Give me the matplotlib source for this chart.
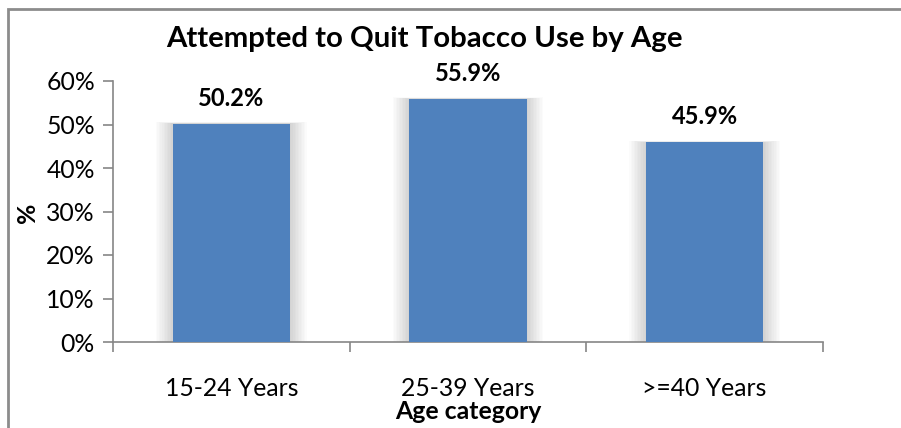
import matplotlib as mpl
mpl.use("Agg")
import matplotlib.pyplot as plt
from matplotlib.patches import Rectangle
import numpy as np

categories = ["15-24 Years", "25-39 Years", ">=40 Years"]
values = [50.2, 55.9, 45.9]
value_labels = ["50.2%", "55.9%", "45.9%"]
yticks = [0, 10, 20, 30, 40, 50, 60]
ytick_labels = ["0%", "10%", "20%", "30%", "40%", "50%", "60%"]

BAR_COLOR = "#4F81BD"
AXIS_COLOR = "#868686"
FONT = ["Lato", "DejaVu Sans"]

plt.rcParams["font.family"] = FONT

fig = plt.figure(figsize=(9.01, 4.28), dpi=100)
ax = fig.add_axes([113 / 901, 1 - 342 / 428, (823 - 113) / 901, (342 - 81) / 428])

x = np.arange(len(categories))
width = 0.495

# soft shadow around the bars
for k in range(12):
    ax.bar(x, np.array(values) + 0.03 * k, width=width + 0.013 * k,
           color="black", alpha=0.014, linewidth=0, zorder=1)
ax.bar(x, values, width=width, color=BAR_COLOR, linewidth=0, zorder=3)

for xi, v, lab in zip(x, values, value_labels):
    ax.annotate(lab, (xi, v), xytext=(0, 13), textcoords="offset points",
                ha="center", va="baseline", fontsize=17, fontweight="bold")

ax.set_xlim(-0.5, len(categories) - 0.5)
ax.set_ylim(0, 60)
ax.set_yticks(yticks)
ax.set_yticklabels(ytick_labels)
ax.set_xticks(x)
ax.set_xticklabels(categories)
ax.set_xticks(np.arange(len(categories) + 1) - 0.5, minor=True)
ax.tick_params(axis="x", which="major", length=0, pad=25, labelsize=17.8)
ax.tick_params(axis="x", which="minor", length=7, width=1.2, color=AXIS_COLOR,
               direction="out")
ax.tick_params(axis="y", length=7, width=1.2, color=AXIS_COLOR, pad=6,
               labelsize=17.8)

for s in ["top", "right"]:
    ax.spines[s].set_visible(False)
for s in ["left", "bottom"]:
    ax.spines[s].set_color(AXIS_COLOR)
    ax.spines[s].set_linewidth(1.2)

ax.set_xlabel("Age category", fontsize=17.8, fontweight="bold", labelpad=0)
fig.text(28 / 901, 1 - 213 / 428, "%", rotation=90, fontsize=17.8,
         fontweight="bold", ha="center", va="center")
fig.text(424 / 901, 1 - 47 / 428, "Attempted to Quit Tobacco Use by Age",
         fontsize=21.2, fontweight="bold", ha="center", va="baseline")

# outer chart border
fig.patches.append(Rectangle((8 / 901, -0.1), 1.2, 1 - 9 / 428 + 0.1,
                             transform=fig.transFigure, fill=False,
                             edgecolor="#8C8C8C", linewidth=2))

fig.savefig("out.png", dpi=100)
